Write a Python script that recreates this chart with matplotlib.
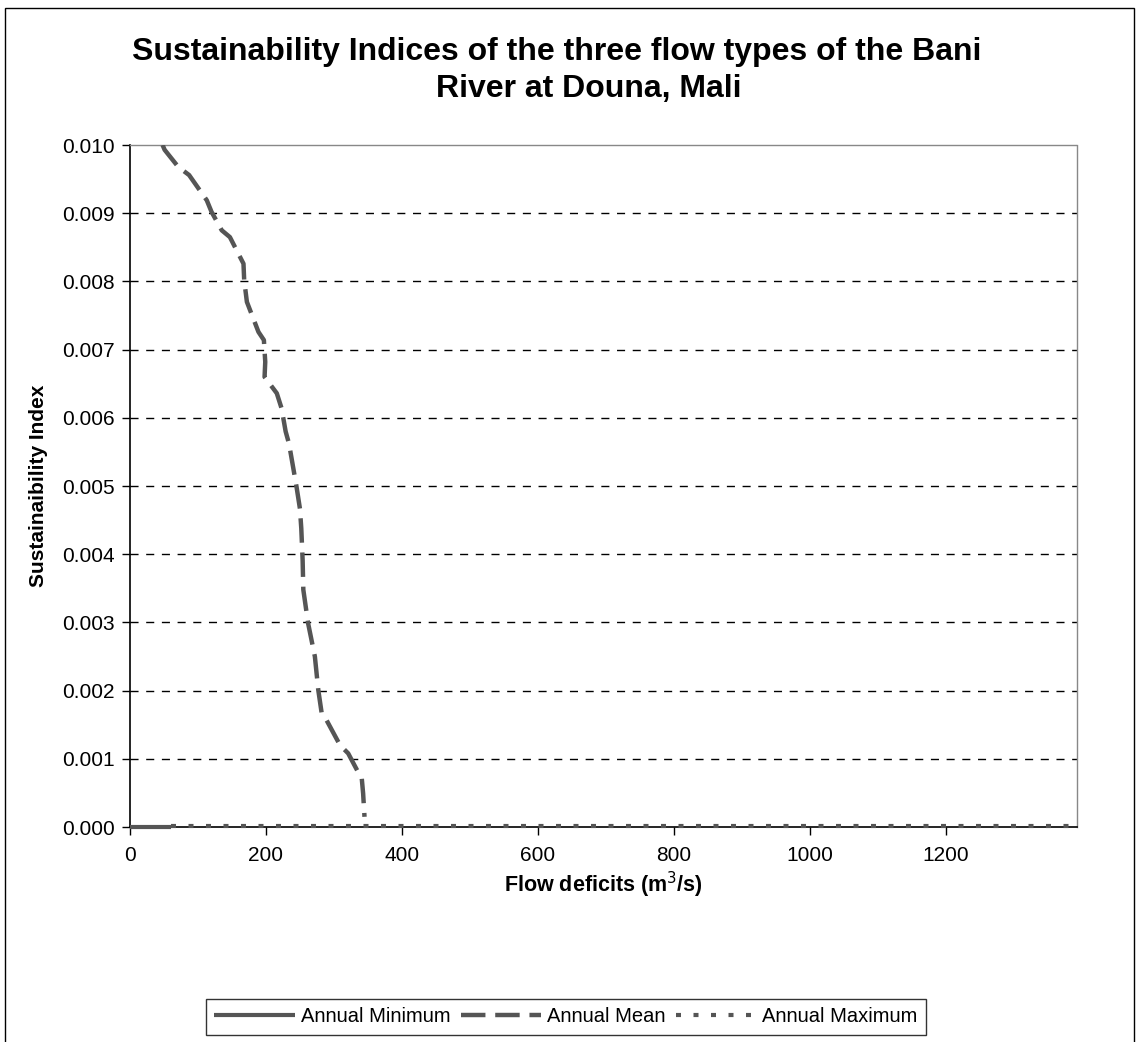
import matplotlib.pyplot as plt
from matplotlib.patches import Rectangle

# Annual Mean curve (flow deficit in m3/s, sustainability index)
mean_x = [48, 51, 71, 87, 113, 120, 135, 147, 167, 168, 172, 189, 197, 199, 198,
          216, 223, 229, 234, 245, 250, 252, 254, 255, 262, 272, 277, 282, 289,
          309, 321, 338, 341, 343, 345]
mean_y = [0.01000, 0.00993, 0.00968, 0.00956, 0.00919, 0.00902, 0.00875, 0.00865,
          0.00826, 0.00802, 0.00770, 0.00726, 0.00714, 0.00682, 0.00660, 0.00636,
          0.00614, 0.00580, 0.00562, 0.00499, 0.00467, 0.00438, 0.00391, 0.00348,
          0.00299, 0.00250, 0.00201, 0.00167, 0.00157, 0.00120, 0.00108, 0.00076,
          0.00071, 0.00049, 0.00015]

# Annual Minimum and Annual Maximum sit on the zero line
min_x = [0, 30, 60]
min_y = [0.0, 0.0, 0.0]
max_x = [60, 400, 800, 1200, 1393]
max_y = [0.00002, 0.00002, 0.00002, 0.00002, 0.00002]

x_ticks = [0, 200, 400, 600, 800, 1000, 1200]
y_ticks = [0.000, 0.001, 0.002, 0.003, 0.004, 0.005, 0.006, 0.007, 0.008, 0.009, 0.010]

plt.rcParams.update({
    "font.family": ["Liberation Sans", "DejaVu Sans"],
    "font.size": 15,
})

line_col = '#555555'

fig = plt.figure(figsize=(11.37, 10.42), dpi=100)
ax = fig.add_axes([0.1143, 0.2063, 0.8329, 0.6545])

# outer chart frame
fig.patches.append(Rectangle((0.004, -0.01), 0.993, 1.002, transform=fig.transFigure,
                             fill=False, edgecolor='black', linewidth=1.0))

ax.plot(min_x, min_y, color=line_col, linewidth=3, solid_capstyle='butt',
        label='Annual Minimum', clip_on=False, zorder=3)
ax.plot(mean_x, mean_y, color=line_col, linewidth=3.2, dashes=(5.5, 2.2),
        label='Annual Mean', clip_on=True, zorder=3)
ax.plot(max_x, max_y, color=line_col, linewidth=3, dashes=(1.2, 3.0),
        label='Annual Maximum', clip_on=False, zorder=3)

ax.set_xlim(0, 1393)
ax.set_ylim(0, 0.010)
ax.set_xticks(x_ticks)
ax.set_yticks(y_ticks)
ax.set_yticklabels([f'{v:.3f}' for v in y_ticks])
ax.tick_params(direction='out', length=6, width=1, labelsize=15)
ax.tick_params(axis='x', pad=8)
ax.tick_params(axis='y', pad=5)

for v in y_ticks[1:-1]:
    ax.axhline(v, color='black', linewidth=1.0, dashes=(5.8, 5.5), zorder=1)

for side in ['top', 'right']:
    ax.spines[side].set_color('#888888')
    ax.spines[side].set_linestyle((0, (1, 1)))
    ax.spines[side].set_linewidth(1.0)
ax.spines['left'].set_linewidth(1.2)
ax.spines['bottom'].set_linewidth(1.2)

ax.set_xlabel('Flow deficits (m$^3$/s)', fontweight='bold', fontsize=15.5, labelpad=3)
ax.set_ylabel('Sustainaibility Index', fontweight='bold', fontsize=15, labelpad=10)

fig.text(557 / 1137, 1 - 52 / 1042, 'Sustainability Indices of the three flow types of the Bani',
         ha='center', va='center', fontsize=23, fontweight='bold')
fig.text(589 / 1137, 1 - 89 / 1042, 'River at Douna, Mali',
         ha='center', va='center', fontsize=23, fontweight='bold')

leg = fig.legend(loc='center', bbox_to_anchor=(566 / 1137, 1 - 1017 / 1042), ncol=3,
                 frameon=True, fancybox=False, edgecolor='black', fontsize=14.5,
                 handlelength=4.0, columnspacing=0.5, handletextpad=0.3,
                 borderpad=0.4)
leg.get_frame().set_linewidth(1.0)

fig.savefig('out.png', dpi=100)
